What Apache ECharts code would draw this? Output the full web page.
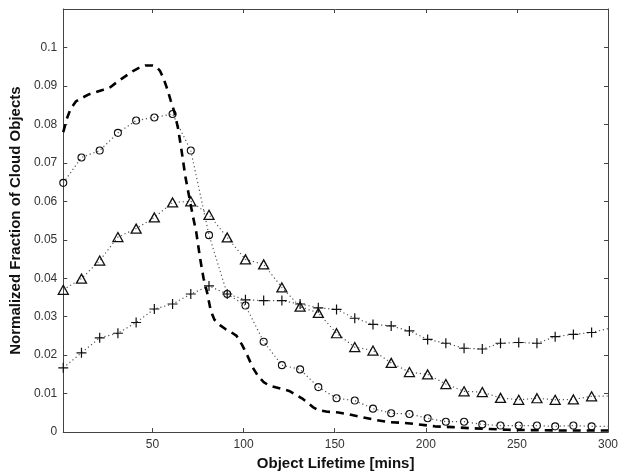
<!DOCTYPE html>
<html>
<head>
<meta charset="utf-8">
<script src="https://cdn.jsdelivr.net/npm/echarts@6/dist/echarts.min.js"></script>
<style>html,body{margin:0;padding:0;background:#fff}#c{width:627px;height:476px}</style>
</head>
<body>
<div id="c"></div>
<script>
// Lifetime bins (mins) for the marker series
const lifetimes = [1,11,21,31,41,51,61,71,81,91,101,111,121,131,141,151,161,171,181,191,201,211,221,231,241,251,261,271,281,291];
const circleVals = [0.0648,0.0714,0.0732,0.0778,0.0810,0.0818,0.0827,0.0732,0.0512,0.0359,0.0329,0.0235,0.0174,0.0163,0.0117,0.0088,0.0082,0.0061,0.0049,0.0047,0.0036,0.0027,0.0027,0.0020,0.0017,0.0017,0.0017,0.0015,0.0017,0.0015];
const triangleVals = [0.0370,0.0399,0.0446,0.0507,0.0529,0.0558,0.0597,0.0600,0.0565,0.0506,0.0449,0.0436,0.0376,0.0326,0.0310,0.0257,0.0221,0.0212,0.0180,0.0156,0.0150,0.0125,0.0106,0.0104,0.0089,0.0084,0.0088,0.0084,0.0085,0.0093];
const plusVals = [0.0167,0.0206,0.0245,0.0257,0.0285,0.0320,0.0333,0.0359,0.0380,0.0359,0.0344,0.0342,0.0342,0.0333,0.0323,0.0319,0.0296,0.0280,0.0276,0.0263,0.0241,0.0231,0.0218,0.0216,0.0231,0.0233,0.0231,0.0248,0.0254,0.0259];
// values where the dotted lines leave the plot at the right edge
const edgeX = 301;
const edgeVals = {circle:0.0015, triangle:0.0094, plus:0.0270};
// Dashed curve (x, y)
const dashedX = [1,3,5,8,11,15,19,23,27,31,35,39,43,46,50,52,54,56,58,60,62,64,66,68,70,72,74,76,78,80,82,84,87,90,93,96,99,102,105,108,111,114,118,122,125,128,132,135,138,141,146,152,158,165,172,180,188,196,205,215,225,235,245,260,280,300];
const dashedY = [0.0780,0.0815,0.0840,0.0860,0.0868,0.0878,0.0884,0.0890,0.0897,0.0912,0.0925,0.0938,0.0948,0.0953,0.0953,0.0950,0.0940,0.0920,0.0893,0.0862,0.0832,0.0790,0.0730,0.0665,0.0615,0.0565,0.0520,0.0455,0.0400,0.0362,0.0315,0.0292,0.0278,0.0268,0.0260,0.0251,0.0228,0.0200,0.0168,0.0145,0.0130,0.0121,0.0116,0.0111,0.0107,0.0099,0.0088,0.0077,0.0065,0.0057,0.0053,0.0051,0.0046,0.0039,0.0032,0.0026,0.0024,0.0020,0.0015,0.0013,0.0010,0.0008,0.0006,0.0005,0.0004,0.0004];
const xTicks = [50,100,150,200,250,300];
const yTicks = [0,0.01,0.02,0.03,0.04,0.05,0.06,0.07,0.08,0.09,0.1];

function pairs(xs, ys){ return xs.map((x,i)=>[x, ys[i]]); }
function withEdge(ys, e){ const d = pairs(lifetimes, ys); d.push({value:[edgeX, e], symbol:'none'}); return d; }

const plusPath = 'path://M4.4,0 L5.6,0 L5.6,4.4 L10,4.4 L10,5.6 L5.6,5.6 L5.6,10 L4.4,10 L4.4,5.6 L0,5.6 L0,4.4 L4.4,4.4 Z';
const axisColor = '#444';
const labelFont = {fontFamily:'Liberation Sans, Arial, sans-serif', fontSize:12, color:'#333'};
const dotted = {color:'#555', width:1.2, type:[1.2,2.8]};

const chart = echarts.init(document.getElementById('c'), null, {renderer:'canvas'});
chart.setOption({
  animation:false,
  backgroundColor:'#fff',
  grid:{left:61, right:19, top:9, bottom:36},
  xAxis:[{
    type:'value', min:1, max:300, position:'bottom',
    name:'Object Lifetime [mins]', nameLocation:'middle', nameGap:21,
    nameTextStyle:{fontFamily:'Liberation Sans, Arial, sans-serif', fontSize:15, fontWeight:'bold', color:'#111'},
    axisLine:{show:true, onZero:false, lineStyle:{color:axisColor, width:1}},
    axisTick:{show:true, inside:true, length:4, customValues:xTicks, lineStyle:{color:axisColor}},
    axisLabel:Object.assign({show:true, margin:7, customValues:xTicks}, labelFont),
    splitLine:{show:false}
  },{
    type:'value', min:1, max:300, position:'top',
    axisLine:{show:true, onZero:false, lineStyle:{color:axisColor, width:1}},
    axisTick:{show:true, inside:true, length:4, customValues:xTicks, lineStyle:{color:axisColor}},
    axisLabel:{show:false}, splitLine:{show:false}
  }],
  yAxis:[{
    type:'value', min:0, max:0.11, position:'left',
    name:'Normalized Fraction of Cloud Objects', nameLocation:'middle', nameGap:33,
    nameTextStyle:{fontFamily:'Liberation Sans, Arial, sans-serif', fontSize:15, fontWeight:'bold', color:'#111'},
    axisLine:{show:true, onZero:false, lineStyle:{color:axisColor, width:1}},
    axisTick:{show:true, inside:true, length:4, customValues:yTicks, lineStyle:{color:axisColor}},
    axisLabel:Object.assign({show:true, margin:6, customValues:yTicks,
      formatter:v => v===0 ? '0' : (+v.toFixed(2)).toString()}, labelFont),
    splitLine:{show:false}
  },{
    type:'value', min:0, max:0.11, position:'right',
    axisLine:{show:true, onZero:false, lineStyle:{color:axisColor, width:1}},
    axisTick:{show:true, inside:true, length:4, customValues:yTicks, lineStyle:{color:axisColor}},
    axisLabel:{show:false}, splitLine:{show:false}
  }],
  series:[
    {type:'line', name:'dashed', data:pairs(dashedX, dashedY), showSymbol:false, symbol:'none',
     lineStyle:{color:'#000', width:2.6, type:[8,6], cap:'butt'}, z:5},
    {type:'line', name:'circle', data:withEdge(circleVals, edgeVals.circle), symbol:'circle', symbolSize:7,
     itemStyle:{color:'rgba(255,255,255,0)', borderColor:'#111', borderWidth:1.1}, lineStyle:dotted, z:3},
    {type:'line', name:'triangle', data:withEdge(triangleVals, edgeVals.triangle), symbol:'triangle', symbolSize:[10,9],
     itemStyle:{color:'rgba(255,255,255,0)', borderColor:'#111', borderWidth:1.3}, lineStyle:dotted, z:3},
    {type:'line', name:'plus', data:withEdge(plusVals, edgeVals.plus), symbol:plusPath, symbolSize:10,
     itemStyle:{color:'#111', borderWidth:0}, lineStyle:dotted, z:3}
  ]
});
</script>
</body>
</html>
